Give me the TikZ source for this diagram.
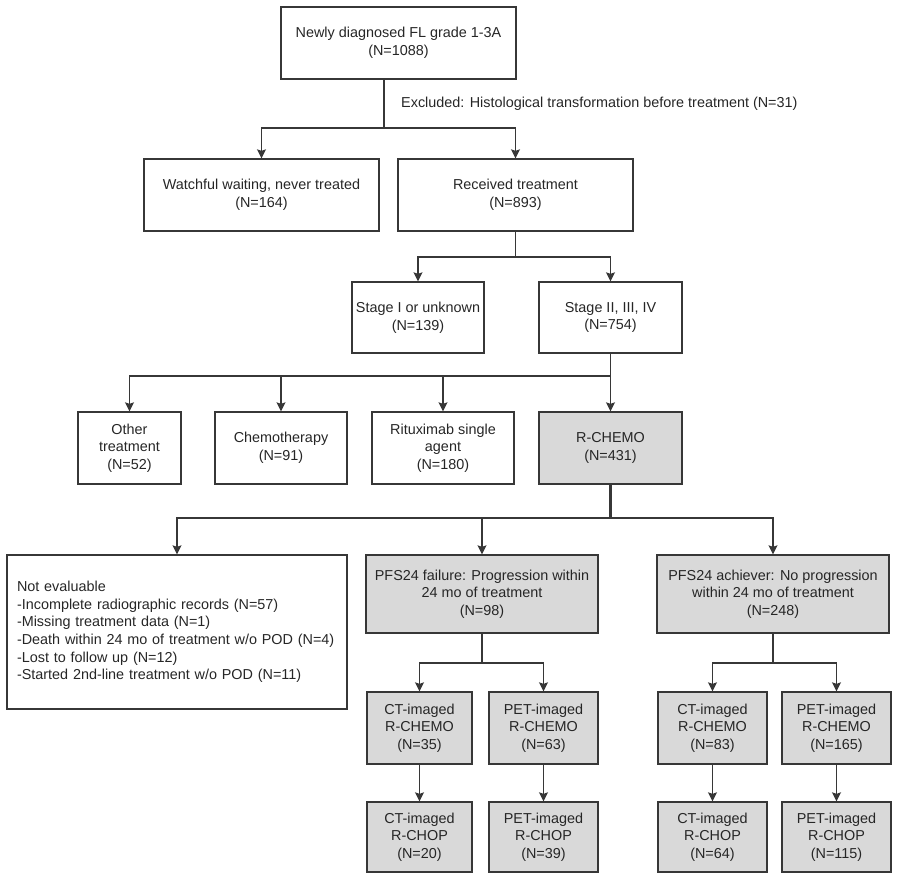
\documentclass[tikz,border=0pt]{standalone}
\usepackage{fontspec}
\setmainfont{Liberation Sans}
\usepackage{xcolor}
\usepackage{tikz}
\usetikzlibrary{arrows.meta}

\definecolor{boxgray}{RGB}{217,217,217}
\definecolor{linegray}{RGB}{55,55,55}

\begin{document}
\begin{tikzpicture}[x=1pt,y=-1pt,
    plainbox/.style={draw=linegray,line width=1.3pt,align=center,inner sep=0pt,text=black!85,font=\fontsize{14.4}{17.7}\selectfont},
    graybox/.style={plainbox,fill=boxgray},
    link/.style={draw=linegray,line width=1.3pt},
    arr/.style={link,-{Stealth[length=9pt,width=9pt,inset=1.5pt]}}]
    \useasboundingbox (0,0) rectangle (900,882);
    % first levels
    \node[plainbox,minimum width=235pt,minimum height=72pt] (1) at (398.5,43) {Newly diagnosed FL grade 1-3A\\(N=1088)};
    \node[plainbox,minimum width=235pt,minimum height=72pt] (2) at (261.5,195) {Watchful waiting, never treated\\(N=164)};
    \node[plainbox,minimum width=235pt,minimum height=72pt] (3) at (515.5,195) {Received treatment\\(N=893)};
    \node[plainbox,minimum width=132pt,minimum height=71pt] (4) at (418,317.5) {Stage I or unknown\\(N=139)};
    \node[plainbox,minimum width=143pt,minimum height=71pt] (5) at (610.5,317.5) {Stage II, III, IV\\(N=754)};
    \node[plainbox,minimum width=103pt,minimum height=72pt] (6) at (129.5,448) {Other\\treatment\\(N=52)};
    \node[plainbox,minimum width=132pt,minimum height=72pt] (7) at (281,448) {Chemotherapy\\(N=91)};
    \node[plainbox,minimum width=142pt,minimum height=72pt] (8) at (443,448) {Rituximab single\\agent\\(N=180)};
    \node[graybox,minimum width=143pt,minimum height=72pt] (9) at (610.5,448) {R-CHEMO\\(N=431)};
    \node[anchor=west,inner sep=0pt,text=black!85,font=\fontsize{14.4}{17.7}\selectfont] (ex) at (401,104) {Excluded: Histological transformation before treatment (N=31)};
    % PFS24 level
    \node[plainbox,align=left,text width=320pt,inner xsep=10pt,minimum height=154pt] (10) at (177,632) {Not evaluable\\-Incomplete radiographic records (N=57)\\-Missing treatment data (N=1)\\\mbox{-Death within 24 mo of treatment w/o POD (N=4)}\\-Lost to follow up (N=12)\\-Started 2nd-line treatment w/o POD (N=11)};
    \node[graybox,minimum width=232pt,minimum height=78pt] (11) at (482,594) {PFS24 failure: Progression within\\24 mo of treatment\\(N=98)};
    \node[graybox,minimum width=232pt,minimum height=78pt] (12) at (773,594) {PFS24 achiever: No progression\\within 24 mo of treatment\\(N=248)};
    % imaging
    \node[graybox,minimum width=105pt,minimum height=72pt] (13) at (419.5,728) {CT-imaged\\R-CHEMO\\(N=35)};
    \node[graybox,minimum width=109pt,minimum height=72pt] (14) at (543.5,728) {PET-imaged\\R-CHEMO\\(N=63)};
    \node[graybox,minimum width=109pt,minimum height=72pt] (15) at (712.5,728) {CT-imaged\\R-CHEMO\\(N=83)};
    \node[graybox,minimum width=109pt,minimum height=72pt] (16) at (836.5,728) {PET-imaged\\R-CHEMO\\(N=165)};
    \node[graybox,minimum width=105pt,minimum height=70pt] (17) at (419.5,837) {CT-imaged\\R-CHOP\\(N=20)};
    \node[graybox,minimum width=109pt,minimum height=70pt] (18) at (543.5,837) {PET-imaged\\R-CHOP\\(N=39)};
    \node[graybox,minimum width=109pt,minimum height=70pt] (19) at (712.5,837) {CT-imaged\\R-CHOP\\(N=64)};
    \node[graybox,minimum width=109pt,minimum height=70pt] (20) at (836.5,837) {PET-imaged\\R-CHOP\\(N=115)};
    % branch points
    \coordinate (a) at (384,128);
    \coordinate (b) at (515.5,257);
    \coordinate (c) at (610.5,376);
    \coordinate (d) at (610.5,518);
    \coordinate (e) at (482,663);
    \coordinate (f) at (773,663);
    \draw[link] (1.south -| a) -- (a);
    \draw[arr] (a) -| (2);
    \draw[arr] (a) -| (3);
    \draw[link] (3) -- (b);
    \draw[arr] (b) -| (4);
    \draw[arr] (b) -| (5);
    \draw[link] (5) -- (c);
    \draw[arr] (c) -| (6);
    \draw[arr] (c) -| (7);
    \draw[arr] (c) -| (8);
    \draw[arr] (c) -- (9);
    \draw[link,line width=2.6pt] (9) -- (d);
    \draw[arr] (d) -| (10);
    \draw[arr] (d) -| (11);
    \draw[arr] (d) -| (12);
    \draw[link] (11) -- (e);
    \draw[arr] (e) -| (13);
    \draw[arr] (e) -| (14);
    \draw[link] (12) -- (f);
    \draw[arr] (f) -| (15);
    \draw[arr] (f) -| (16);
    \draw[arr] (13) -- (17);
    \draw[arr] (14) -- (18);
    \draw[arr] (15) -- (19);
    \draw[arr] (16) -- (20);
\end{tikzpicture}
\end{document}
